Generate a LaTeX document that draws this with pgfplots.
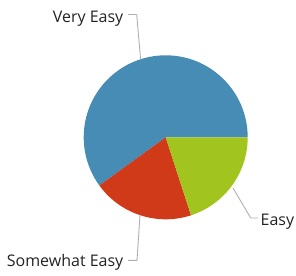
\documentclass[border=0pt]{standalone}
\usepackage{pgfplots}
\usepackage{pgfplotstable}
\pgfplotsset{compat=1.18}
\usepackage{fontspec}
\setmainfont{Open Sans}
\definecolor{pieblue}{RGB}{70,140,180}
\definecolor{piered}{RGB}{208,58,24}
\definecolor{piegreen}{RGB}{162,196,30}
\definecolor{leader}{RGB}{175,175,175}
\definecolor{labeltext}{RGB}{35,35,35}
\begin{document}
\begin{tikzpicture}
\pgfplotstableread[col sep=comma]{
label,value
Very Easy,60
Somewhat Easy,20
Easy,20
}\piedata
\pgfplotstablegetelem{0}{value}\of\piedata \pgfmathsetmacro\va{\pgfplotsretval}
\pgfplotstablegetelem{1}{value}\of\piedata \pgfmathsetmacro\vb{\pgfplotsretval}
\pgfplotstablegetelem{2}{value}\of\piedata \pgfmathsetmacro\vc{\pgfplotsretval}
\pgfmathsetmacro\tot{\va+\vb+\vc}
\pgfmathsetmacro\angA{360*(\va/\tot)}
\pgfmathsetmacro\angB{360*((\va+\vb)/\tot)}
\def\cx{165.7}
\def\cy{137.7}
\def\rr{82}
\begin{axis}[
  width=296pt, height=275pt, scale only axis,
  xmin=0, xmax=296, ymin=0, ymax=275,
  hide axis, clip=false,
]
\path (axis cs:0,0) rectangle (axis cs:296,275);
% slices
\fill[pieblue] (axis cs:\cx,\cy) -- (axis cs:{\cx+\rr},\cy)
   arc[start angle=0, end angle=\angA, radius=\rr pt] -- cycle;
\fill[piered] (axis cs:\cx,\cy) -- (axis cs:{\cx+\rr*cos(\angA)},{\cy+\rr*sin(\angA)})
   arc[start angle=\angA, end angle=\angB, radius=\rr pt] -- cycle;
\fill[piegreen] (axis cs:\cx,\cy) -- (axis cs:{\cx+\rr*cos(\angB)},{\cy+\rr*sin(\angB)})
   arc[start angle=\angB, end angle=360, radius=\rr pt] -- cycle;
% leader lines
\draw[leader, line width=0.9pt] (axis cs:140.6,215.7) -- (axis cs:136.7,260.5) -- (axis cs:128,260.5);
\draw[leader, line width=0.9pt] (axis cs:233,87) -- (axis cs:250.7,57) -- (axis cs:258,57);
\draw[leader, line width=0.9pt] (axis cs:140,60) -- (axis cs:137,14.7) -- (axis cs:128,14.7);
% labels
\node[anchor=base east, inner sep=0pt, text=labeltext, font=\fontsize{16}{19}\selectfont] at (axis cs:123.5,252.5) {Very Easy};
\node[anchor=base west, inner sep=0pt, text=labeltext, font=\fontsize{16}{19}\selectfont] at (axis cs:260.5,49) {Easy};
\node[anchor=base east, inner sep=0pt, text=labeltext, font=\fontsize{16}{19}\selectfont] at (axis cs:123.5,8.3) {Somewhat Easy};
\end{axis}
\end{tikzpicture}
\end{document}
